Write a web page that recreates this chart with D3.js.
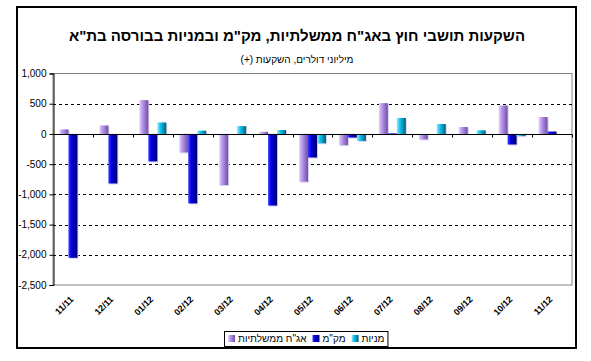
<!DOCTYPE html>
<html>
<head>
<meta charset="utf-8">
<script src="https://cdn.jsdelivr.net/npm/d3@7"></script>
<style>
  body { margin: 0; background: #fff; }
  svg text { font-family: Arial, "Liberation Sans", sans-serif; fill: #000; }
</style>
</head>
<body>
<div id="chart"></div>
<script>
let categories = ["11/11","12/11","01/12","02/12","03/12","04/12","05/12","06/12","07/12","08/12","09/12","10/12","11/12"];
let seriesNames = ["אג\"ח ממשלתיות", "מק\"מ", "מניות"];
let govBonds = [75, 140, 560, -305, -845, 35, -790, -185, 510, -90, 115, 470, 280];
let makam = [-2050, -820, -455, -1150, 0, -1185, -390, -60, 10, 0, 0, -175, 40];
let stocks = [0, 0, 190, 55, 130, 65, -155, -115, 265, 165, 60, -35, 0];
let yTicks = [1000, 500, 0, -500, -1000, -1500, -2000, -2500];

const width = 591, height = 361;
const plot = {left: 53, right: 572, top: 73.5, bottom: 285};

let svg = d3.select("#chart").append("svg")
  .attr("width", width)
  .attr("height", height);

// gradients for the 3d-looking bars
let defs = svg.append("defs");
let grads = [
  ["g0", ["#e6d2ff", "#b896ea", "#6e4fa6"]],
  ["g1", ["#3a3aff", "#0000e6", "#00006a"]],
  ["g2", ["#8eeaff", "#12c2ec", "#00607e"]]
];
grads.forEach(function(g) {
  let lg = defs.append("linearGradient").attr("id", g[0])
    .attr("x1", "0%").attr("x2", "100%").attr("y1", "0%").attr("y2", "0%");
  lg.append("stop").attr("offset", "0%").attr("stop-color", g[1][0]);
  lg.append("stop").attr("offset", "35%").attr("stop-color", g[1][1]);
  lg.append("stop").attr("offset", "100%").attr("stop-color", g[1][2]);
});

// outer frame
svg.append("rect")
  .attr("x", 17).attr("y", 7)
  .attr("width", 559).attr("height", 341)
  .attr("fill", "#fff")
  .attr("stroke", "#000")
  .attr("stroke-width", 2);

// titles
svg.append("text")
  .attr("x", 297).attr("y", 41)
  .attr("text-anchor", "middle")
  .attr("direction", "rtl")
  .style("font-size", "15px")
  .style("font-weight", "bold")
  .text("השקעות תושבי חוץ באג\"ח ממשלתיות, מק\"מ ובמניות בבורסה בת\"א");

svg.append("text")
  .attr("x", 297).attr("y", 63)
  .attr("text-anchor", "middle")
  .attr("direction", "rtl")
  .style("font-size", "10px")
  .text("מיליוני דולרים, השקעות (+)");

let y = d3.scaleLinear()
  .domain([-2500, 1000])
  .range([plot.bottom, plot.top]);

let x = d3.scaleBand()
  .domain(categories)
  .range([plot.left, plot.right])
  .paddingInner(0)
  .paddingOuter(0);

let x1 = d3.scaleBand()
  .domain([0, 1, 2])
  .range([0, x.bandwidth()])
  .paddingInner(0)
  .paddingOuter(0.72);

// plot area border
svg.append("rect")
  .attr("x", plot.left).attr("y", plot.top)
  .attr("width", plot.right - plot.left)
  .attr("height", plot.bottom - plot.top)
  .attr("fill", "none")
  .attr("stroke", "#808080")
  .attr("stroke-width", 1);

// dashed gridlines
svg.append("g")
  .selectAll("line")
  .data(yTicks.filter(d => d != 1000 && d != -2500 && d != 0))
  .enter()
  .append("line")
  .attr("x1", plot.left).attr("x2", plot.right)
  .attr("y1", d => Math.round(y(d)) + 0.5)
  .attr("y2", d => Math.round(y(d)) + 0.5)
  .attr("stroke", "#000")
  .attr("stroke-dasharray", "3,3");

// y axis
let fmt = d3.formatLocale({decimal: ".", thousands: ",", grouping: [3], currency: ["", ""], minus: "-"}).format(",");
let yAxis = d3.axisLeft(y)
  .tickValues(yTicks)
  .tickFormat(fmt)
  .tickSize(4)
  .tickPadding(3);

let gy = svg.append("g")
  .attr("transform", "translate(" + (plot.left + 0.5) + ",0)")
  .call(yAxis);
gy.select(".domain").attr("stroke", "#000");
gy.selectAll(".tick line").attr("stroke", "#000");
gy.selectAll("text")
  .style("font-size", "10px")
  .style("font-family", "Arial, 'Liberation Sans', sans-serif");

// bars
let allSeries = [govBonds, makam, stocks];
allSeries.forEach(function(values, s) {
  let g = svg.append("g").attr("class", "series-" + s);
  let bars = g.selectAll("g")
    .data(values.map((v, i) => ({cat: categories[i], v: v})))
    .enter();

  // faint shadow on the right/bottom
  bars.append("rect")
    .attr("x", d => x(d.cat) + x1(s) + 1)
    .attr("y", d => Math.min(y(d.v), y(0)) + (d.v >= 0 ? 1 : 0))
    .attr("width", x1.bandwidth())
    .attr("height", d => Math.abs(y(d.v) - y(0)) + (d.v < 0 ? 1 : 0))
    .attr("fill", d => d.v == 0 ? "none" : "#d8d0f0");

  bars.append("rect")
    .attr("x", d => x(d.cat) + x1(s))
    .attr("y", d => Math.min(y(d.v), y(0)))
    .attr("width", x1.bandwidth())
    .attr("height", d => Math.abs(y(d.v) - y(0)))
    .attr("fill", "url(#g" + s + ")");
});

// zero line with category ticks
let y0 = Math.round(y(0)) + 0.5;
svg.append("line")
  .attr("x1", plot.left).attr("x2", plot.right)
  .attr("y1", y0).attr("y2", y0)
  .attr("stroke", "#000");
svg.append("g")
  .selectAll("line")
  .data(categories.slice(1).concat(["end"]))
  .enter()
  .append("line")
  .attr("x1", d => Math.round(d == "end" ? plot.right : x(d)) + 0.5)
  .attr("x2", d => Math.round(d == "end" ? plot.right : x(d)) + 0.5)
  .attr("y1", y0).attr("y2", y0 + 3)
  .attr("stroke", "#000");

// x labels, rotated
svg.append("g")
  .selectAll("text")
  .data(categories)
  .enter()
  .append("text")
  .attr("transform", d => "translate(" + (x(d) + x.bandwidth() / 2 + 1) + ",300) rotate(-45)")
  .attr("text-anchor", "end")
  .style("font-size", "9px")
  .style("font-weight", "bold")
  .text(d => d);

// legend: swatch then label, left to right
let legend = svg.append("g").attr("class", "legend");
let box = legend.append("rect")
  .attr("fill", "#fff")
  .attr("stroke", "#000")
  .attr("stroke-width", 1);
let legendRectSize = 7, legendSpacing = 3;
let cursor = 4;
seriesNames.forEach(function(name, i) {
  let item = legend.append("g").attr("transform", "translate(" + cursor + ",0)");
  item.append("rect")
    .attr("x", 0)
    .attr("y", -legendRectSize)
    .attr("width", legendRectSize)
    .attr("height", legendRectSize)
    .attr("fill", "url(#g" + i + ")");
  let t = item.append("text")
    .attr("x", legendRectSize + legendSpacing)
    .attr("y", 0)
    .attr("text-anchor", "start")
    .style("font-size", "10px")
    .text(name);
  let w = t.node().getComputedTextLength();
  cursor += legendRectSize + legendSpacing + w + (i < seriesNames.length - 1 ? 6 : 3);
});
let legendW = cursor;
legend.attr("transform", "translate(" + Math.round(306 - legendW / 2) + ",342)");
box.attr("x", 0.5).attr("y", -10.5)
  .attr("width", legendW).attr("height", 15);
</script>
</body>
</html>
